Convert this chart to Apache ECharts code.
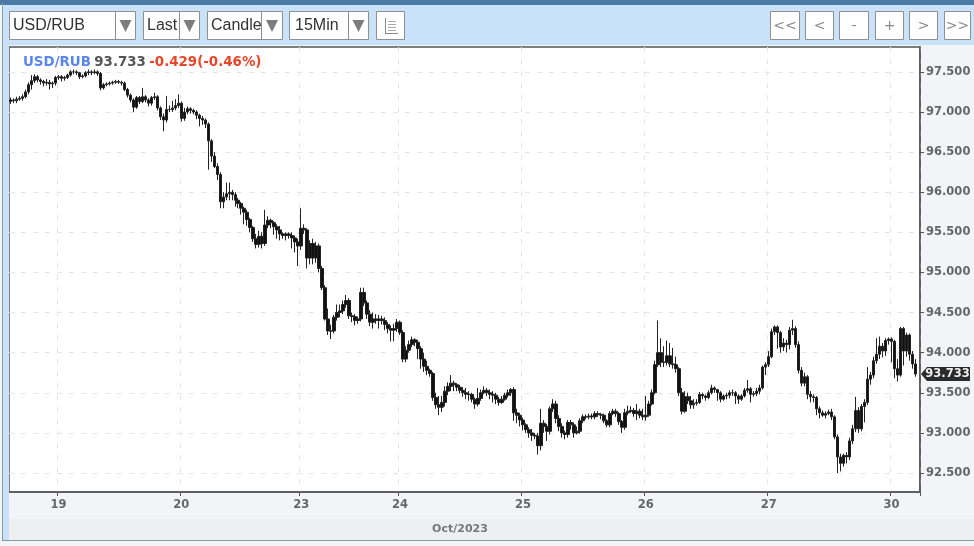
<!DOCTYPE html>
<html>
<head>
<meta charset="utf-8">
<style>html,body{margin:0;padding:0;background:#fff}#c{width:974px;height:546px}</style>
<script src="https://cdn.jsdelivr.net/npm/echarts@6/dist/echarts.min.js"></script>
</head>
<body>
<div id="c"></div>
<script>
const opens=[97.13,97.15,97.14,97.16,97.17,97.19,97.25,97.34,97.39,97.44,
97.40,97.38,97.36,97.37,97.35,97.36,97.43,97.44,97.42,97.43,
97.46,97.50,97.50,97.49,97.44,97.45,97.49,97.50,97.49,97.50,
97.48,97.30,97.34,97.35,97.36,97.37,97.38,97.37,97.36,97.28,
97.21,97.15,97.06,97.18,97.13,97.19,97.15,97.11,97.18,97.19,
97.05,96.94,96.90,97.03,97.03,97.05,97.08,97.11,96.92,97.00,
97.04,97.02,97.00,96.96,96.92,96.90,96.85,96.64,96.45,96.32,
96.22,95.88,95.94,95.98,96.00,95.97,95.90,95.86,95.80,95.75,
95.66,95.56,95.42,95.35,95.45,95.36,95.59,95.65,95.62,95.57,
95.53,95.48,95.46,95.48,95.46,95.43,95.38,95.33,95.55,95.53,
95.18,95.36,95.18,95.33,95.05,94.81,94.42,94.27,94.27,94.44,
94.50,94.52,94.60,94.65,94.46,94.45,94.40,94.42,94.75,94.62,
94.48,94.38,94.42,94.40,94.42,94.40,94.35,94.30,94.28,94.30,
94.38,94.25,93.92,94.03,94.10,94.16,94.13,94.05,93.92,93.83,
93.78,93.74,93.44,93.35,93.32,93.38,93.52,93.58,93.62,93.60,
93.57,93.53,93.50,93.48,93.48,93.42,93.36,93.43,93.50,93.53,
93.50,93.48,93.47,93.42,93.38,93.42,93.47,93.50,93.54,93.25,
93.22,93.16,93.10,93.04,93.00,92.97,92.96,92.84,93.12,93.08,
93.02,93.30,93.36,93.18,93.08,93.00,92.98,93.13,93.10,93.00,
93.02,93.15,93.20,93.20,93.21,93.20,93.24,93.23,93.22,93.15,
93.10,93.24,93.27,93.24,93.14,93.07,93.25,93.27,93.28,93.24,
93.27,93.22,93.20,93.22,93.36,93.50,93.85,94.00,93.88,93.88,
93.96,93.86,93.85,93.80,93.50,93.27,93.45,93.40,93.35,93.37,
93.38,93.48,93.46,93.44,93.50,93.56,93.54,93.50,93.42,93.46,
93.47,93.50,93.50,93.46,93.42,93.46,93.53,93.55,93.48,93.49,
93.52,93.56,93.82,93.85,93.95,94.26,94.32,94.25,94.07,94.12,
94.10,94.28,94.30,94.10,93.78,93.62,93.70,93.48,93.45,93.44,
93.30,93.25,93.22,93.24,93.26,93.20,92.95,92.70,92.62,92.72,
92.70,92.90,93.05,93.28,93.05,93.33,93.38,93.67,93.72,93.90,
93.98,94.08,94.02,94.15,94.17,94.14,93.80,93.72,94.30,94.02,
94.22,93.98,93.86];
const closes=[97.15,97.14,97.16,97.17,97.19,97.25,97.34,97.39,97.44,97.40,
97.38,97.36,97.37,97.35,97.36,97.43,97.44,97.42,97.43,97.46,
97.50,97.50,97.49,97.44,97.45,97.49,97.50,97.49,97.50,97.48,
97.30,97.34,97.35,97.36,97.37,97.38,97.37,97.36,97.28,97.21,
97.15,97.06,97.18,97.13,97.19,97.15,97.11,97.18,97.19,97.05,
96.94,96.90,97.03,97.03,97.05,97.08,97.11,96.92,97.00,97.04,
97.02,97.00,96.96,96.92,96.90,96.85,96.64,96.45,96.32,96.22,
95.88,95.94,95.98,96.00,95.97,95.90,95.86,95.80,95.75,95.66,
95.56,95.42,95.35,95.45,95.36,95.59,95.65,95.62,95.57,95.53,
95.48,95.46,95.48,95.46,95.43,95.38,95.33,95.55,95.53,95.18,
95.36,95.18,95.33,95.05,94.81,94.42,94.27,94.27,94.44,94.50,
94.52,94.60,94.65,94.46,94.45,94.40,94.42,94.75,94.62,94.48,
94.38,94.42,94.40,94.42,94.40,94.35,94.30,94.28,94.30,94.38,
94.25,93.92,94.03,94.10,94.16,94.13,94.05,93.92,93.83,93.78,
93.74,93.44,93.35,93.32,93.38,93.52,93.58,93.62,93.60,93.57,
93.53,93.50,93.48,93.48,93.42,93.36,93.43,93.50,93.53,93.50,
93.48,93.47,93.42,93.38,93.42,93.47,93.50,93.54,93.25,93.22,
93.16,93.10,93.04,93.00,92.97,92.96,92.84,93.12,93.08,93.02,
93.30,93.36,93.18,93.08,93.00,92.98,93.13,93.10,93.00,93.02,
93.15,93.20,93.20,93.21,93.20,93.24,93.23,93.22,93.15,93.10,
93.24,93.27,93.24,93.14,93.07,93.25,93.27,93.28,93.24,93.27,
93.22,93.20,93.22,93.36,93.50,93.85,94.00,93.88,93.88,93.96,
93.86,93.85,93.80,93.50,93.27,93.45,93.40,93.35,93.37,93.38,
93.48,93.46,93.44,93.50,93.56,93.54,93.50,93.42,93.46,93.47,
93.50,93.50,93.46,93.42,93.46,93.53,93.55,93.48,93.49,93.52,
93.56,93.82,93.85,93.95,94.26,94.32,94.25,94.07,94.12,94.10,
94.28,94.30,94.10,93.78,93.62,93.70,93.48,93.45,93.44,93.30,
93.25,93.22,93.24,93.26,93.20,92.95,92.70,92.62,92.72,92.70,
92.90,93.05,93.28,93.05,93.33,93.38,93.67,93.72,93.90,93.98,
94.08,94.02,94.15,94.17,94.14,93.80,93.72,94.30,94.02,94.22,
93.98,93.86,93.733];
const lows=[97.10,97.11,97.11,97.14,97.14,97.17,97.22,97.28,97.36,97.37,
97.34,97.32,97.33,97.28,97.30,97.33,97.40,97.38,97.39,97.41,
97.44,97.47,97.46,97.41,97.42,97.43,97.46,97.46,97.47,97.45,
97.27,97.28,97.32,97.33,97.34,97.35,97.35,97.33,97.26,97.18,
97.12,97.00,97.04,97.10,97.11,97.12,97.07,97.08,97.15,97.02,
96.90,96.76,96.87,97.00,97.00,97.02,97.05,96.88,96.89,96.97,
96.98,96.97,96.91,96.82,96.84,96.80,96.28,96.38,96.30,96.15,
95.80,95.80,95.90,95.90,95.90,95.82,95.80,95.72,95.60,95.58,
95.50,95.38,95.30,95.31,95.30,95.33,95.55,95.55,95.47,95.42,
95.40,95.42,95.40,95.42,95.30,95.25,95.08,95.28,95.48,95.05,
95.10,95.10,95.12,95.00,94.78,94.40,94.22,94.17,94.24,94.40,
94.44,94.48,94.56,94.42,94.38,94.34,94.36,94.39,94.58,94.42,
94.33,94.30,94.36,94.30,94.35,94.28,94.24,94.14,94.14,94.26,
94.22,93.88,93.88,94.00,94.07,94.08,93.92,93.80,93.76,93.72,
93.70,93.40,93.30,93.22,93.26,93.33,93.47,93.52,93.52,93.52,
93.49,93.45,93.42,93.40,93.38,93.30,93.33,93.40,93.48,93.46,
93.42,93.38,93.36,93.34,93.36,93.40,93.44,93.46,93.15,93.12,
93.08,93.03,93.00,92.94,92.90,92.92,92.73,92.78,93.00,92.90,
92.98,93.26,93.12,93.02,92.94,92.92,92.94,93.04,92.94,92.98,
92.99,93.12,93.17,93.17,93.17,93.17,93.20,93.17,93.12,93.07,
93.07,93.22,93.20,93.10,93.00,93.04,93.22,93.25,93.20,93.16,
93.18,93.16,93.15,93.20,93.34,93.48,93.82,93.82,93.82,93.84,
93.82,93.80,93.75,93.46,93.23,93.25,93.36,93.30,93.30,93.34,
93.36,93.42,93.40,93.42,93.48,93.50,93.40,93.38,93.40,93.42,
93.43,93.46,93.36,93.36,93.40,93.44,93.50,93.38,93.45,93.46,
93.48,93.54,93.72,93.82,93.93,94.22,94.05,94.00,94.02,94.00,
94.04,94.22,94.06,93.74,93.58,93.58,93.42,93.38,93.38,93.22,
93.18,93.20,93.18,93.22,93.16,92.92,92.50,92.52,92.58,92.62,
92.66,92.86,93.01,93.00,93.02,93.13,93.35,93.60,93.68,93.86,
93.92,93.94,93.96,94.10,93.88,93.68,93.64,93.70,93.84,93.95,
93.90,93.80,93.70];
const highs=[97.18,97.17,97.19,97.20,97.22,97.28,97.37,97.46,97.47,97.46,
97.42,97.40,97.41,97.40,97.38,97.45,97.46,97.46,97.45,97.48,
97.52,97.53,97.52,97.50,97.47,97.51,97.53,97.52,97.53,97.52,
97.50,97.36,97.37,97.38,97.39,97.40,97.40,97.39,97.38,97.30,
97.23,97.17,97.20,97.20,97.30,97.21,97.17,97.20,97.24,97.21,
97.07,96.98,97.20,97.08,97.14,97.16,97.22,97.13,97.05,97.07,
97.06,97.04,97.02,96.98,96.95,96.92,96.87,96.66,96.50,96.36,
96.25,96.00,96.12,96.12,96.03,96.00,95.93,95.88,95.82,95.78,
95.68,95.58,95.48,95.52,95.50,95.78,95.70,95.67,95.64,95.60,
95.58,95.50,95.50,95.50,95.50,95.46,95.42,95.80,95.60,95.55,
95.40,95.42,95.38,95.36,95.08,94.84,94.55,94.35,94.47,94.60,
94.60,94.65,94.72,94.68,94.50,94.48,94.45,94.81,94.81,94.65,
94.53,94.50,94.48,94.47,94.46,94.44,94.38,94.34,94.36,94.42,
94.40,94.28,94.08,94.15,94.20,94.18,94.16,94.08,94.00,93.90,
93.80,93.76,93.50,93.46,93.46,93.58,93.63,93.72,93.65,93.62,
93.60,93.57,93.56,93.52,93.50,93.44,93.56,93.54,93.58,93.56,
93.54,93.52,93.50,93.45,93.46,93.50,93.54,93.56,93.57,93.30,
93.25,93.19,93.12,93.07,93.05,93.00,93.00,93.30,93.16,93.11,
93.33,93.42,93.40,93.22,93.12,93.03,93.16,93.16,93.13,93.08,
93.18,93.23,93.23,93.24,93.24,93.27,93.27,93.25,93.24,93.17,
93.27,93.30,93.30,93.26,93.16,93.30,93.34,93.33,93.31,93.36,
93.30,93.30,93.46,93.40,93.54,93.90,94.40,94.18,94.08,94.15,
94.12,94.06,93.95,93.82,93.56,93.52,93.50,93.46,93.42,93.42,
93.51,93.50,93.48,93.53,93.60,93.58,93.54,93.52,93.48,93.50,
93.53,93.54,93.52,93.48,93.48,93.56,93.66,93.57,93.52,93.56,
93.60,93.84,93.88,94.02,94.30,94.34,94.34,94.27,94.18,94.16,
94.32,94.41,94.33,94.14,93.82,93.75,93.72,93.52,93.48,93.46,
93.33,93.28,93.27,93.29,93.30,93.22,92.98,92.74,92.74,92.76,
92.94,93.10,93.45,93.32,93.36,93.42,93.82,93.76,93.95,94.18,
94.20,94.12,94.18,94.19,94.19,94.16,93.92,94.32,94.32,94.25,
94.24,94.02,93.92];
const dayLabels=['19','20','23','24','25','26','27','30'];
const dayStarts=[16,57,97,130,171,212,253,294];
const slotCount=304;
const yTicks=[92.5,93,93.5,94,94.5,95,95.5,96,96.5,97,97.5];
const yMin=92.263, yMax=97.81;
const lastPrice=93.733;
const instrument='USD/RUB';
const change='-0.429(-0.46%)';
const monthLabel='Oct/2023';
const dropdowns=[['USD/RUB',9,136,115],['Last',143,200,179],['Candle',207,283,261],['15Min',289,369,348]];
const navButtons=[['<<',770,800],['<',805,834],['-',839,869],['+',875,904],['>',909,938],['>>',944,971]];

const categories=[];
for(let i=0;i<slotCount;i++){const k=dayStarts.indexOf(i);categories.push(k>=0?dayLabels[k]:'');}
const candleData=opens.map((o,i)=>[o,closes[i],lows[i],highs[i]]);
const isDay=i=>dayStarts.indexOf(i)>=0;
const FONT='"DejaVu Sans",sans-serif';
const ARIAL='"Liberation Sans",Arial,sans-serif';

function rect(x,y,w,h,fill,stroke,z){return {type:'rect',silent:true,z:z||1,shape:{x:x,y:y,width:w,height:h},style:{fill:fill,stroke:stroke||null,lineWidth:stroke?1:0}};}
function text(x,y,t,font,fill,align,z){return {type:'text',silent:true,z:z||5,x:x,y:y,style:{text:t,font:font,fill:fill,align:align||'left',verticalAlign:'middle'}};}
function line(x1,y1,x2,y2,c,w,z){return {type:'line',silent:true,z:z||4,shape:{x1:x1,y1:y1,x2:x2,y2:y2},style:{stroke:c,lineWidth:w||1}};}

const els=[];
els.push(rect(0,0,974,5,'#4a79a6'));
els.push(rect(3,5,971,40,'#c9e2f9'));
els.push(rect(3,5,6,536,'#c9e2f9'));
els.push(rect(9,519,965,21,'#eeeff0'));
els.push(line(2.5,3,2.5,541,'#7f9f9c',1));
els.push(line(2,540.5,974,540.5,'#7f9f9c',1));
dropdowns.forEach(function(d){
  els.push(rect(d[1]+.5,11.5,d[2]-d[1]-1,28,'#fff','#8f8f8f',2));
  els.push(text(d[1]+(d[0]==='USD/RUB'?4:d[0]==='15Min'?6:4),26,d[0],'16px '+ARIAL,'#333','left',3));
  els.push(rect(d[3]+.5,12,d[2]-d[3]-1.5,27,'#fff',null,4));
  els.push(line(d[3]+.5,11.5,d[3]+.5,39.5,'#8c8c8c',1,5));
  const cx=(d[3]+d[2])/2;
  els.push({type:'polygon',silent:true,z:5,shape:{points:[[cx-6,20],[cx+6,20],[cx,32]]},style:{fill:'#7c7c7c'}});
});
els.push(rect(376.5,11.5,28,28,'#fff','#8f8f8f',2));
els.push(line(385.5,18,385.5,33,'#888',1));
els.push(line(385,33.5,398,33.5,'#888',1));
[21,24,27,30].forEach(function(y){els.push(line(388,y+.5,396,y+.5,'#aaa',1));});
navButtons.forEach(function(b){
  els.push(rect(b[1]+.5,11.5,b[2]-b[1]-1,28,'#fff','#8f8f8f',2));
  els.push(text((b[1]+b[2])/2,26,b[0],'14px '+FONT,'#888','center',3));
});
els.push({type:'text',silent:true,z:20,x:23,y:63,style:{
  text:'{a|'+instrument+'} {b|'+lastPrice.toFixed(3)+'} {c|'+change+'}',
  verticalAlign:'middle',
  rich:{a:{fill:'#5b86ee',font:'bold 13.4px '+FONT},b:{fill:'#555',font:'bold 13.4px '+FONT},c:{fill:'#e5472b',font:'bold 13.4px '+FONT}}
}});
els.push(text(460,529,monthLabel,'bold 11px '+FONT,'#777','center'));

const chart=echarts.init(document.getElementById('c'),null,{renderer:'canvas'});
chart.setOption({
  animation:false,
  backgroundColor:'#f3f4f7',
  grid:{show:true,left:9,right:54,top:47,bottom:54,backgroundColor:'#fff',borderColor:'#555',borderWidth:1.5,containLabel:false},
  xAxis:{type:'category',data:categories,boundaryGap:true,
    axisLine:{lineStyle:{color:'#555',width:1.5}},
    axisTick:{show:true,length:4,interval:function(i){return isDay(i);},lineStyle:{color:'#555'}},
    axisLabel:{interval:function(i){return isDay(i);},color:'#666',fontFamily:FONT,fontWeight:'bold',fontSize:11.5,margin:7},
    splitLine:{show:true,interval:function(i){return isDay(i);},lineStyle:{color:'#e6e6e6',type:[5,7],width:1}}
  },
  yAxis:{type:'value',position:'right',min:yMin,max:yMax,scale:true,
    axisLine:{show:true,lineStyle:{color:'#555',width:1.5}},
    axisTick:{show:true,length:4,customValues:yTicks,lineStyle:{color:'#555'}},
    axisLabel:{customValues:yTicks,formatter:function(v){return Number(v).toFixed(3);},color:'#666',fontFamily:FONT,fontWeight:'bold',fontSize:11.5,margin:6},
    splitLine:{show:true,lineStyle:{color:'#e6e6e6',type:[5,7],width:1}}
  },
  series:[{type:'candlestick',data:candleData,barWidth:3,
    itemStyle:{color:'#111',color0:'#111',borderColor:'#222',borderColor0:'#222',borderWidth:1}}],
  graphic:{elements:els}
});
const py=chart.convertToPixel({yAxisIndex:0},lastPrice);
const tag=els.concat([
  {type:'polygon',silent:true,z:30,shape:{points:[[921,py],[927,py-7],[970,py-7],[970,py+7],[927,py+7]]},style:{fill:'#2b2b2b'}},
  text(947.5,py,lastPrice.toFixed(3),'bold 11.5px '+FONT,'#eee','center',31)
]);
chart.setOption({graphic:{elements:tag}});
</script>
</body>
</html>
